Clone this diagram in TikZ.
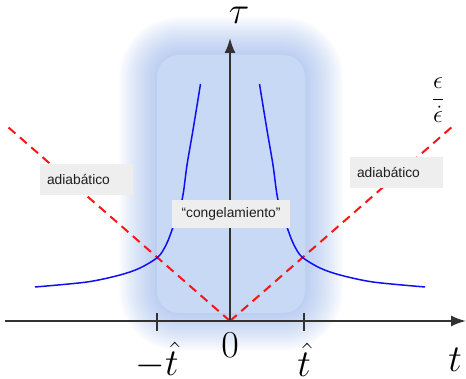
\documentclass[tikz,border=0pt]{standalone}
\usepackage[no-math]{fontspec}
\usepackage{graphicx}
\usetikzlibrary{arrows.meta}
\newfontfamily\boxfont{Liberation Sans}
\newcommand{\axislabel}[1]{\scalebox{1.53}{$#1$}}
\definecolor{axisgray}{RGB}{50,50,50}
\definecolor{labelgray}{RGB}{238,238,238}
\definecolor{textgray}{RGB}{30,30,30}
\definecolor{curveblue}{RGB}{15,15,240}
\definecolor{freezeblue}{RGB}{199,217,245}
\definecolor{glowblue}{RGB}{110,150,225}
\definecolor{dashred}{RGB}{250,20,20}
\begin{document}
\begin{tikzpicture}[
    x=1pt, y=-1pt,
    axis/.style={draw=axisgray, line width=1.8pt, -{Latex[length=15pt,width=11pt]}},
    tickmark/.style={draw=axisgray, line width=1.8pt},
    regime/.style={draw=dashred, line width=2pt, dash pattern=on 9pt off 6pt},
    taucurve/.style={draw=curveblue, line width=1.5pt},
    tag/.style={fill=labelgray, text=textgray, font=\boxfont\fontsize{13.8}{16}\selectfont,
        minimum height=31pt, inner xsep=7pt, text width=79pt, align=left},
    bigmath/.style={font=\fontsize{24.88}{30}\selectfont, inner sep=0pt}
]
    \useasboundingbox (0,0) rectangle (466,379);

    % frozen region with soft glow
    \foreach \g [evaluate=\g as \r using 22+\g] in {38,36,...,2}
        \fill[glowblue, fill opacity=0.033, rounded corners=\r pt]
            (157-\g,55-\g) rectangle (305+\g,313+\g);
    \fill[freezeblue, rounded corners=22pt] (157,55) rectangle (305,313);

    \coordinate (O) at (230,321);
    \coordinate (xstart) at (5,321);
    \coordinate (xend) at (466,321);
    \coordinate (yend) at (230,38);
    \coordinate (adl) at (8,127);
    \coordinate (adr) at (453,126);

    \draw[regime] (O) -- (adl);
    \draw[regime] (O) -- (adr);

    \draw[taucurve] plot[smooth] coordinates {(35,287) (87,282) (120,275) (140,268) (158,257)
        (166,245) (172,230) (182,200) (187,165) (193,130) (200.5,84)};
    \draw[taucurve] plot[smooth] coordinates {(425,287) (373,282) (340,275) (320,268) (302,257)
        (294,245) (288,230) (278,200) (273,165) (267,130) (259.5,84)};

    \draw[axis] (xstart) -- (xend);
    \draw[axis] (O) -- (yend);
    \draw[tickmark] (157,313) -- (157,331);
    \draw[tickmark] (304,313) -- (304,331);

    \node[bigmath] (tau) at (239,15.5) {\axislabel{\tau}};
    \node[bigmath] (tlab) at (455,359.5) {\axislabel{t}};
    \node[bigmath] (zero) at (230,345.5) {\axislabel{0}};
    \node[bigmath] (mthat) at (157,360) {\axislabel{-\hat{t}}};
    \node[bigmath] (that) at (304,360) {\axislabel{\hat{t}}};
    \node[font=\fontsize{24}{28}\selectfont, inner sep=0pt] (ratio) at (438,100)
        {$\displaystyle\frac{\epsilon}{\dot{\epsilon}}$};

    \node[tag] (adiabl) at (86.5,179.5) {adiabático};
    \node[tag] (adiabr) at (396.5,172.5) {adiabático};
    \node[tag, text width=, align=center, minimum width=118pt, minimum height=28pt, inner xsep=8pt]
        (freeze) at (231,214) {“congelamiento”};
\end{tikzpicture}
\end{document}
